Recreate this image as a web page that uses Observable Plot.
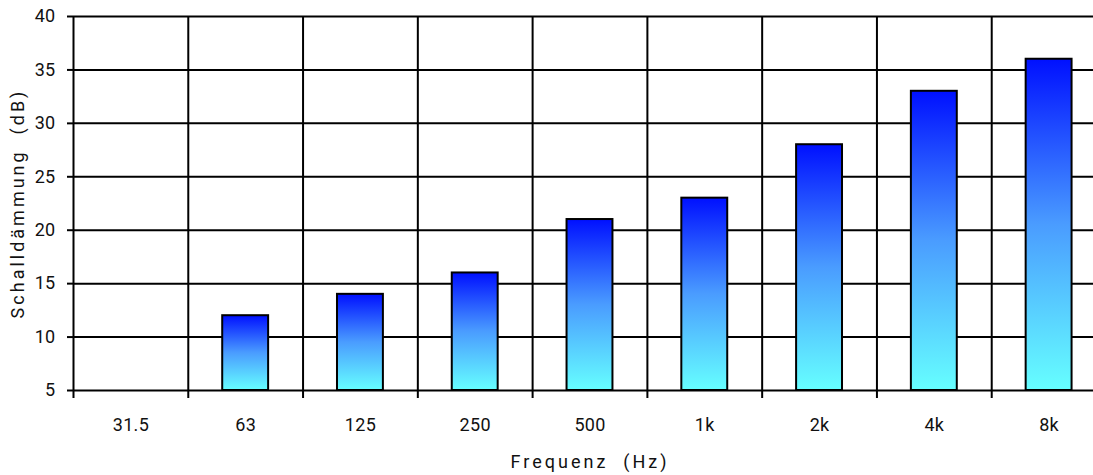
<!DOCTYPE html>
<html><head><meta charset="utf-8">
<script src="https://cdn.jsdelivr.net/npm/d3@7"></script>
<script src="https://cdn.jsdelivr.net/npm/@observablehq/plot@0.6"></script>
<style>
html,body{margin:0;padding:0;background:#fff;overflow:hidden}
svg{font-family:Roboto,"Liberation Sans",Arial,sans-serif;color:#000}
svg g[aria-label="x-axis tick label"] text, svg g[aria-label="y-axis tick label"] text{font-size:18px;letter-spacing:0.3px;fill:#111}
</style>
</head><body><div id="chart"></div>
<script>
// Data
const frequencies = ["31.5","63","125","250","500","1k","2k","4k","8k"];
const insulation = [null,12,14,16,21,23,28,33,36];
const yTicks = [5,10,15,20,25,30,35,40];
const yMin = 5, yMax = 40;
const xTitle = "Frequenz\u00a0 (Hz)";
const yTitle = "Schalldämmung\u00a0 (dB)";

const data = frequencies.map((f,i)=>({f, v: insulation[i]})).filter(d=>d.v!=null);

const W = 1093, H = 475, mL = 73, mR = -13, mT = 16, mB = 85;
const step = (W - mL - mR) / frequencies.length;

const gradient = () => {
  const ns = "http://www.w3.org/2000/svg";
  const defs = document.createElementNS(ns, "defs");
  const lg = document.createElementNS(ns, "linearGradient");
  lg.setAttribute("id", "barGrad");
  lg.setAttribute("x1", "0"); lg.setAttribute("y1", "1");
  lg.setAttribute("x2", "0"); lg.setAttribute("y2", "0");
  [["0%","#66ffff"],["50%","#4a9cff"],["100%","#0010ff"]].forEach(([o,c])=>{
    const s = document.createElementNS(ns, "stop");
    s.setAttribute("offset", o); s.setAttribute("stop-color", c);
    lg.appendChild(s);
  });
  defs.appendChild(lg);
  return defs;
};

const chart = Plot.plot({
  width: W, height: H,
  marginLeft: mL, marginRight: mR, marginTop: mT, marginBottom: mB,
  x: {domain: frequencies, paddingInner: 0.6, paddingOuter: 0.3, round: false, axis: null},
  y: {domain: [yMin, yMax], axis: null},
  marks: [
    gradient,
    Plot.ruleY(yTicks, {stroke: "#000", strokeWidth: 2}),
    Plot.ruleX(frequencies, {x: d => d, dx: -step/2, stroke: "#000", strokeWidth: 2, insetBottom: -8}),
    Plot.barY(data, {x: "f", y1: yMin, y2: "v", fill: "url(#barGrad)", stroke: "#000", strokeWidth: 2}),
    Plot.axisY({ticks: yTicks, tickSize: 6, tickPadding: 12, strokeWidth: 2, label: null}),
    Plot.axisX({tickSize: 0, tickPadding: 28, label: null}),
    Plot.text([yTitle], {frameAnchor: "left", textAnchor: "middle", rotate: -90, dx: -55, fontSize: 18}),
    Plot.text([xTitle], {frameAnchor: "bottom", dy: 77, fontSize: 18})
  ]
});
d3.select(chart).selectAll("text")
  .filter(function(){ return this.textContent === xTitle || this.textContent === yTitle; })
  .style("font-size", "18px").style("letter-spacing", "3px").style("fill", "#111");
document.getElementById("chart").appendChild(chart);
</script>
</body></html>
